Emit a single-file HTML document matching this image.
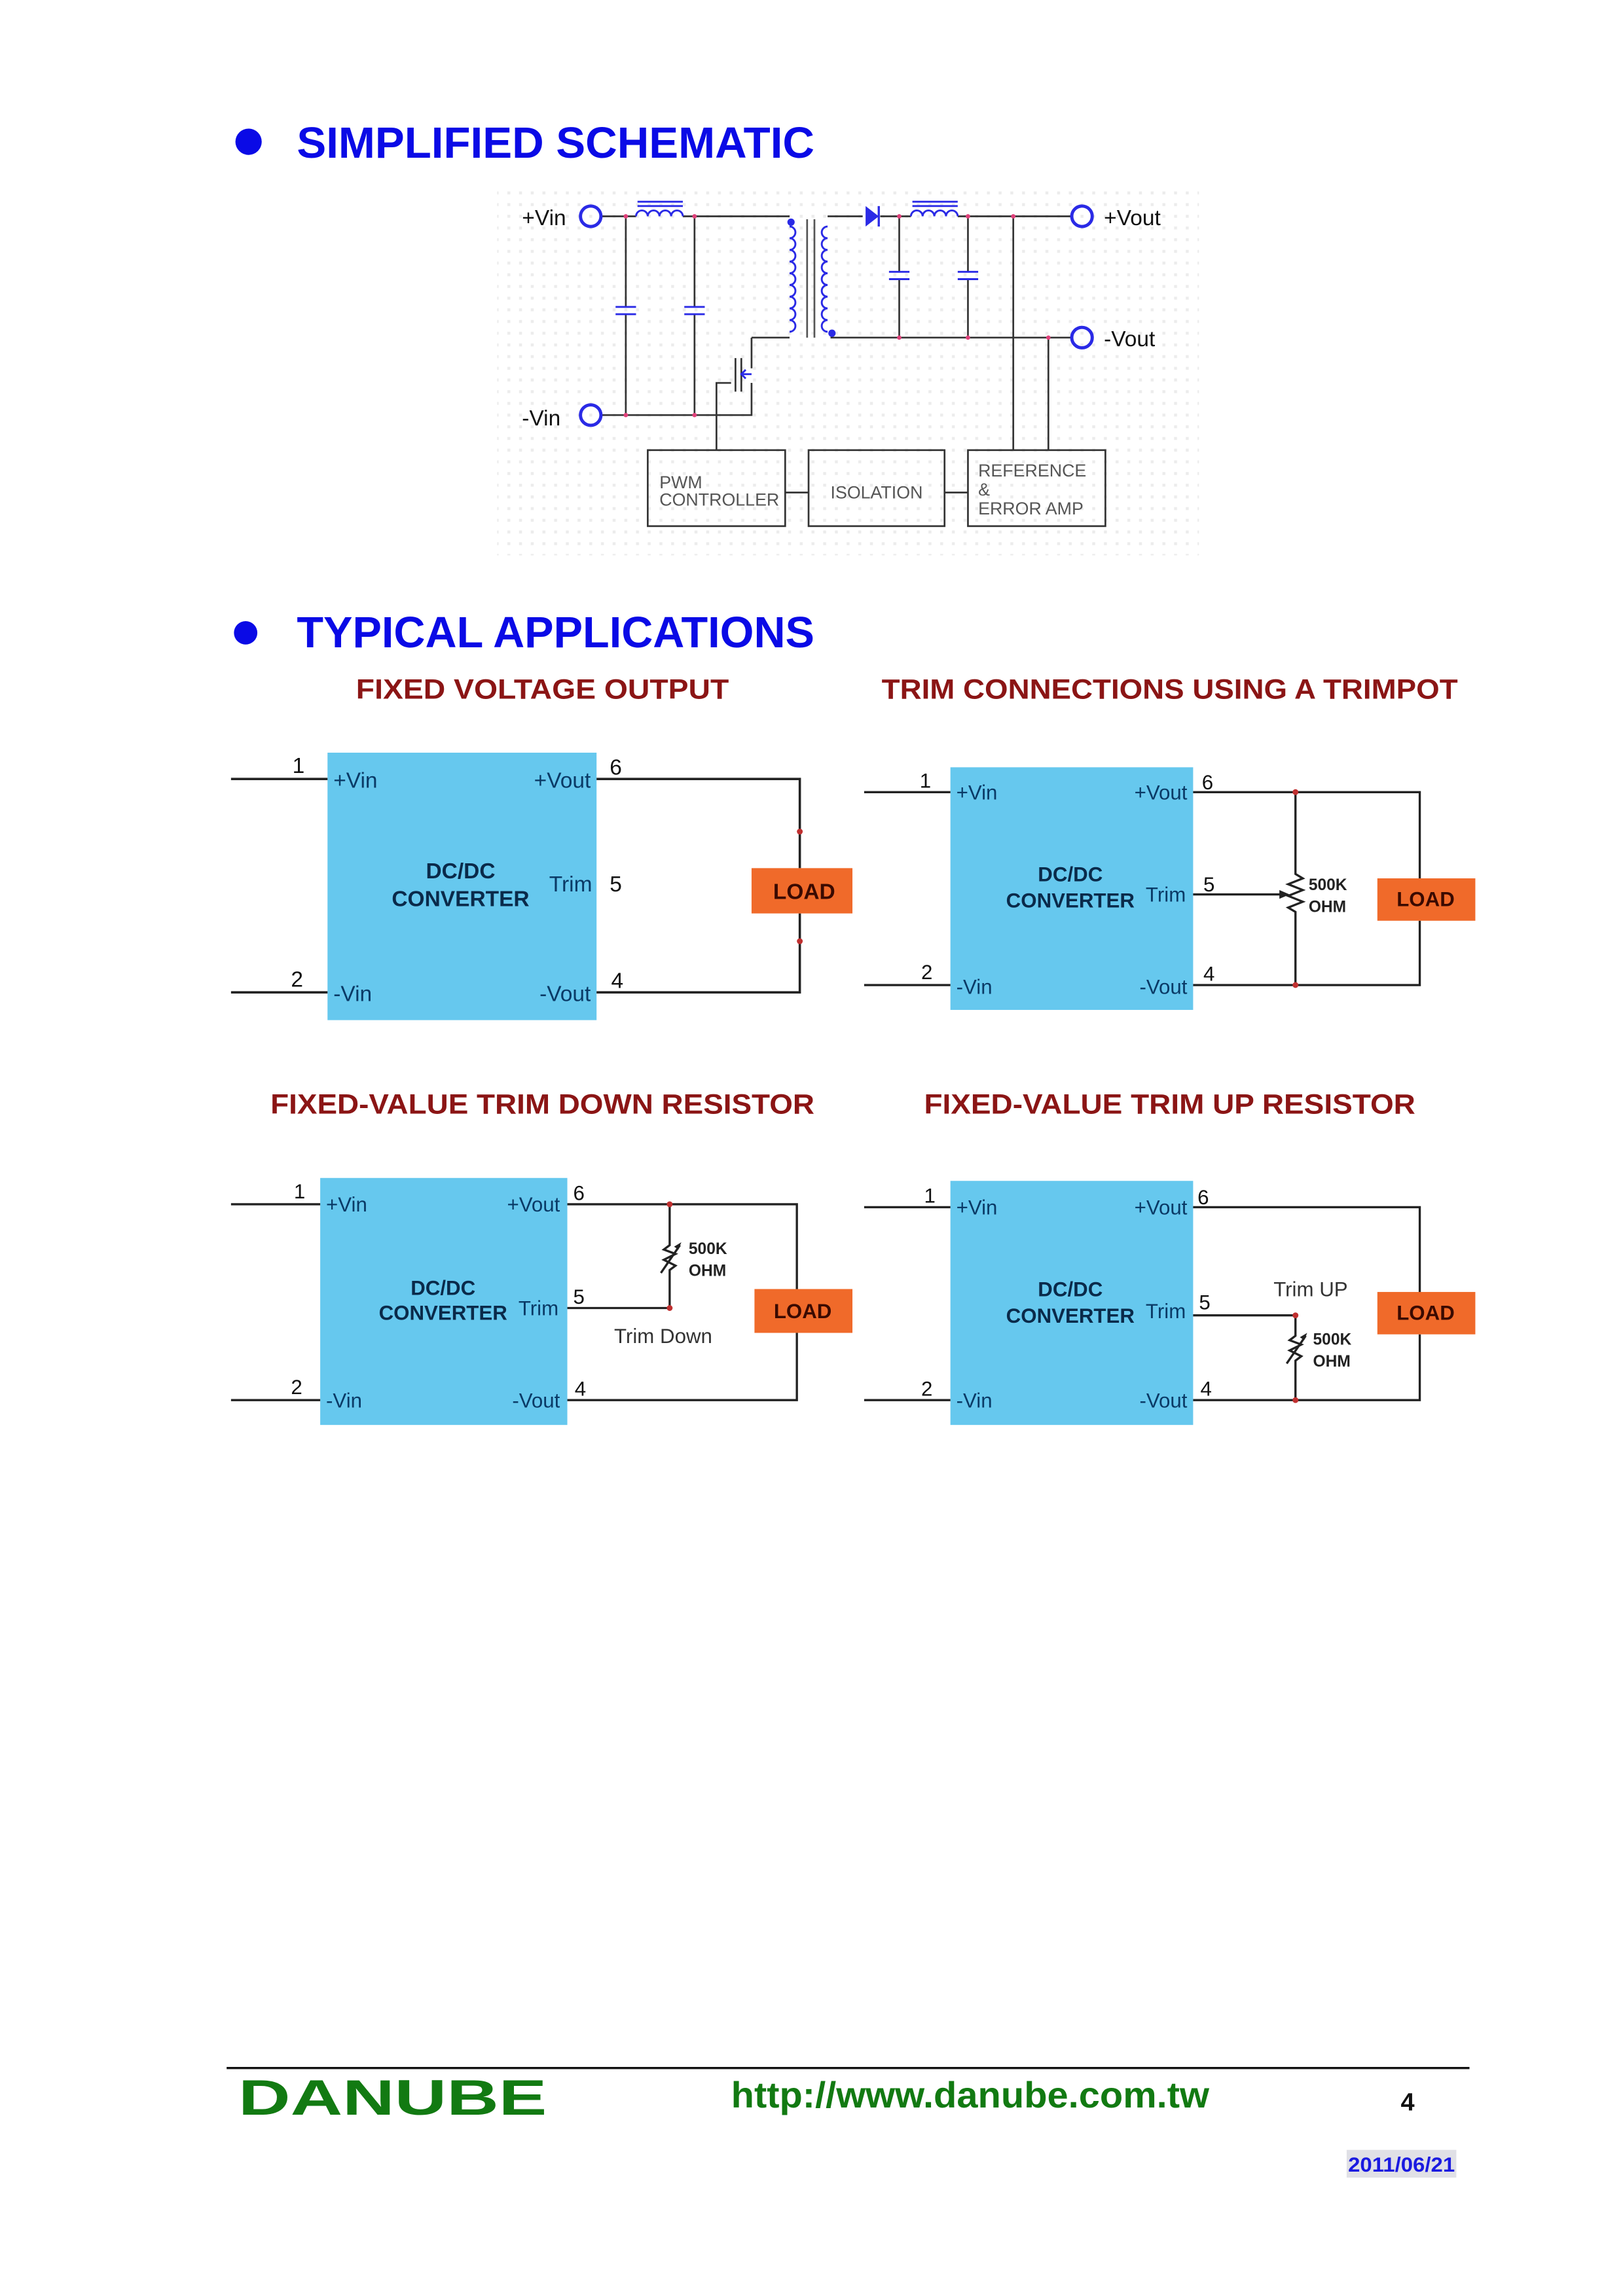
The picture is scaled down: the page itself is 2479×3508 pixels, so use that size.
<!DOCTYPE html>
<html><head><meta charset="utf-8"><style>html,body{margin:0;padding:0;background:#fff}svg{display:block}</style></head>
<body>
<svg xmlns="http://www.w3.org/2000/svg" width="2479" height="3508" viewBox="0 0 1110 1571" preserveAspectRatio="none" font-family="Liberation Sans, sans-serif">
<defs>
<pattern id="dots" width="8" height="8" patternUnits="userSpaceOnUse"><rect x="3" y="3" width="2" height="2" fill="#ececec"/></pattern>
</defs>
<!-- Title 1 -->
<circle cx="170" cy="97" r="9" fill="#0a0ae6"/>
<text x="203" y="108" font-size="30" font-weight="bold" fill="#0a0ae6" textLength="354" lengthAdjust="spacingAndGlyphs">SIMPLIFIED SCHEMATIC</text>

<!-- Schematic -->
<rect x="340" y="130" width="480" height="250" fill="url(#dots)"/>
<g stroke="#333" stroke-width="1.2" fill="none">
 <path d="M411 148 H435 M467 148 H540"/>
 <path d="M428 148 V210 M428 215 V284 M475 148 V210 M475 215 V284"/>
 <path d="M411 284 H514 V262 M514 231 V252 M514 231 H540"/>
 <path d="M490 308 V262 H500"/>
 <path d="M566 148 H590 M602 148 H623 M655 148 H733"/>
 <path d="M568 231 H733"/>
 <path d="M615 148 V186 M615 191 V231 M662 148 V186 M662 191 V231"/>
 <path d="M693 148 V308 M717 231 V308"/>
 <path d="M537 337 H553 M646 337 H662"/>
 <rect x="443" y="308" width="94" height="52"/>
 <rect x="553" y="308" width="93" height="52"/>
 <rect x="662" y="308" width="94" height="52"/>
 <path d="M552 150 V231 M557 150 V231" stroke="#555"/>
 <path d="M503 245 V268 M507 245 V268" stroke="#333"/>
</g>
<g stroke="#2a2ae6" stroke-width="1.3" fill="none">
 <circle cx="404" cy="148" r="7" stroke-width="2.2"/>
 <circle cx="404" cy="284" r="7" stroke-width="2.2"/>
 <circle cx="740" cy="148" r="7" stroke-width="2.2"/>
 <circle cx="740" cy="231" r="7" stroke-width="2.2"/>
 <path d="M435 148 a4 4 0 0 1 8 0 a4 4 0 0 1 8 0 a4 4 0 0 1 8 0 a4 4 0 0 1 8 0"/>
 <path d="M436 138 H467 M436 141 H467"/>
 <path d="M623 148 a4 4 0 0 1 8 0 a4 4 0 0 1 8 0 a4 4 0 0 1 8 0 a4 4 0 0 1 8 0"/>
 <path d="M624 138 H655 M624 141 H655"/>
 <path d="M421 210 H435 M421 215 H435 M468 210 H482 M468 215 H482"/>
 <path d="M608 186 H622 M608 191 H622 M655 186 H669 M655 191 H669"/>
 <path d="M540 155 a4 4 0 0 1 0 8 a4 4 0 0 1 0 8 a4 4 0 0 1 0 8 a4 4 0 0 1 0 8 a4 4 0 0 1 0 8 a4 4 0 0 1 0 8 a4 4 0 0 1 0 8 a4 4 0 0 1 0 8 a4 4 0 0 1 0 8"/>
 <path d="M566 155 a4 4 0 0 0 0 8 a4 4 0 0 0 0 8 a4 4 0 0 0 0 8 a4 4 0 0 0 0 8 a4 4 0 0 0 0 8 a4 4 0 0 0 0 8 a4 4 0 0 0 0 8 a4 4 0 0 0 0 8 a4 4 0 0 0 0 8"/>
 <path d="M508 256 L514 256 M510 253 L507 256 L510 259"/>
</g>
<circle cx="541" cy="152" r="2.5" fill="#2a2ae6"/>
<circle cx="569" cy="228" r="2.5" fill="#2a2ae6"/>
<path d="M592 141 L601 148 L592 155 Z" fill="#2a2ae6"/>
<path d="M601 141 V155" stroke="#2a2ae6" stroke-width="1.5"/>
<g fill="#e0407a">
 <circle cx="428" cy="148" r="1.5"/><circle cx="475" cy="148" r="1.5"/><circle cx="428" cy="284" r="1.5"/><circle cx="475" cy="284" r="1.5"/>
 <circle cx="615" cy="148" r="1.5"/><circle cx="662" cy="148" r="1.5"/><circle cx="693" cy="148" r="1.5"/>
 <circle cx="615" cy="231" r="1.5"/><circle cx="662" cy="231" r="1.5"/><circle cx="717" cy="231" r="1.5"/>
</g>
<g font-size="15" fill="#111">
 <text x="357" y="154">+Vin</text>
 <text x="357" y="291">-Vin</text>
 <text x="755" y="154">+Vout</text>
 <text x="755" y="237">-Vout</text>
</g>
<g font-size="12" fill="#555">
 <text x="451" y="334">PWM</text>
 <text x="451" y="346">CONTROLLER</text>
 <text x="568" y="341">ISOLATION</text>
 <text x="669" y="326">REFERENCE</text>
 <text x="669" y="339">&amp;</text>
 <text x="669" y="352">ERROR AMP</text>
</g>

<!-- Title 2 -->
<circle cx="168" cy="433" r="8" fill="#0a0ae6"/>
<text x="203" y="443" font-size="30" font-weight="bold" fill="#0a0ae6" textLength="354" lengthAdjust="spacingAndGlyphs">TYPICAL APPLICATIONS</text>

<g font-size="19" font-weight="bold" fill="#8b1515" text-anchor="middle">
 <text x="371" y="478" textLength="255" lengthAdjust="spacingAndGlyphs">FIXED VOLTAGE OUTPUT</text>
 <text x="800" y="478" textLength="394" lengthAdjust="spacingAndGlyphs">TRIM CONNECTIONS USING A TRIMPOT</text>
 <text x="371" y="762" textLength="372" lengthAdjust="spacingAndGlyphs">FIXED-VALUE TRIM DOWN RESISTOR</text>
 <text x="800" y="762" textLength="336" lengthAdjust="spacingAndGlyphs">FIXED-VALUE TRIM UP RESISTOR</text>
</g>

<!-- Diagram 1 -->
<rect x="224" y="515" width="184" height="183" fill="#66c8ee"/>
<g stroke="#222" stroke-width="1.6" fill="none">
 <path d="M158 533 H224 M158 679 H224"/>
 <path d="M408 533 H547 V594 M547 625 V679 H408"/>
</g>
<circle cx="547" cy="569" r="2" fill="#c03030"/><circle cx="547" cy="644" r="2" fill="#c03030"/>
<rect x="514" y="594" width="69" height="31" fill="#f06a2a"/>
<text x="550" y="615" font-size="15" font-weight="bold" fill="#3a0a00" text-anchor="middle">LOAD</text>
<g font-size="15" fill="#0a3a66">
 <text x="228" y="539">+Vin</text><text x="228" y="685">-Vin</text>
 <text x="404" y="539" text-anchor="end">+Vout</text><text x="404" y="685" text-anchor="end">-Vout</text>
 <text x="405" y="610" text-anchor="end">Trim</text>
</g>
<g font-size="15" font-weight="bold" fill="#0a2a4a" text-anchor="middle">
 <text x="315" y="601">DC/DC</text><text x="315" y="620">CONVERTER</text>
</g>
<g font-size="15" fill="#111">
 <text x="200" y="529">1</text><text x="199" y="675">2</text>
 <text x="417" y="530">6</text><text x="417" y="610">5</text><text x="418" y="676">4</text>
</g>

<!-- Diagram 2 -->
<rect x="650" y="525" width="166" height="166" fill="#66c8ee"/>
<g stroke="#222" stroke-width="1.5" fill="none">
 <path d="M591 542 H650 M591 674 H650"/>
 <path d="M816 542 H971 V601 M971 630 V674 H816"/>
 <path d="M886 542 V598 L891 601 L881 605 L891 609 L881 613 L891 617 L881 621 L886 624 V674"/>
 <path d="M816 612 H878"/>
</g>
<path d="M882 612 L875 609 L875 615 Z" fill="#222"/>
<circle cx="886" cy="542" r="2" fill="#c03030"/><circle cx="886" cy="674" r="2" fill="#c03030"/>
<rect x="942" y="601" width="67" height="29" fill="#f06a2a"/>
<text x="975" y="620" font-size="14" font-weight="bold" fill="#3a0a00" text-anchor="middle">LOAD</text>
<g font-size="11" font-weight="bold" fill="#222"><text x="895" y="609">500K</text><text x="895" y="624">OHM</text></g>
<g font-size="14" fill="#0a3a66">
 <text x="654" y="547">+Vin</text><text x="654" y="680">-Vin</text>
 <text x="812" y="547" text-anchor="end">+Vout</text><text x="812" y="680" text-anchor="end">-Vout</text>
 <text x="811" y="617" text-anchor="end">Trim</text>
</g>
<g font-size="14" font-weight="bold" fill="#0a2a4a" text-anchor="middle">
 <text x="732" y="603">DC/DC</text><text x="732" y="621">CONVERTER</text>
</g>
<g font-size="14" fill="#111">
 <text x="629" y="539">1</text><text x="630" y="670">2</text>
 <text x="822" y="540">6</text><text x="823" y="610">5</text><text x="823" y="671">4</text>
</g>

<!-- Diagram 3 -->
<rect x="219" y="806" width="169" height="169" fill="#66c8ee"/>
<g stroke="#222" stroke-width="1.5" fill="none">
 <path d="M158 824 H219 M158 958 H219"/>
 <path d="M388 824 H545 V882 M545 912 V958 H388"/>
 <path d="M458 824 V852 L454 855 L462 858 L454 862 L462 866 L458 869 V895 H388"/>
 <path d="M452 871 L465 852"/>
</g>
<path d="M466 850 L461 853 L464 855 Z" fill="#222"/>
<circle cx="458" cy="824" r="2" fill="#c03030"/><circle cx="458" cy="895" r="2" fill="#c03030"/>
<rect x="516" y="882" width="67" height="30" fill="#f06a2a"/>
<text x="549" y="902" font-size="14" font-weight="bold" fill="#3a0a00" text-anchor="middle">LOAD</text>
<g font-size="11" font-weight="bold" fill="#222"><text x="471" y="858">500K</text><text x="471" y="873">OHM</text></g>
<text x="420" y="919" font-size="14" fill="#333">Trim Down</text>
<g font-size="14" fill="#0a3a66">
 <text x="223" y="829">+Vin</text><text x="223" y="963">-Vin</text>
 <text x="383" y="829" text-anchor="end">+Vout</text><text x="383" y="963" text-anchor="end">-Vout</text>
 <text x="382" y="900" text-anchor="end">Trim</text>
</g>
<g font-size="14" font-weight="bold" fill="#0a2a4a" text-anchor="middle">
 <text x="303" y="886">DC/DC</text><text x="303" y="903">CONVERTER</text>
</g>
<g font-size="14" fill="#111">
 <text x="201" y="820">1</text><text x="199" y="954">2</text>
 <text x="392" y="821">6</text><text x="392" y="892">5</text><text x="393" y="955">4</text>
</g>

<!-- Diagram 4 -->
<rect x="650" y="808" width="166" height="167" fill="#66c8ee"/>
<g stroke="#222" stroke-width="1.5" fill="none">
 <path d="M591 826 H650 M591 958 H650"/>
 <path d="M816 826 H971 V884 M971 913 V958 H816"/>
 <path d="M816 900 H886 V914 L882 917 L890 920 L882 924 L890 928 L886 931 V958"/>
 <path d="M880 933 L893 914"/>
</g>
<path d="M894 912 L889 915 L892 917 Z" fill="#222"/>
<circle cx="886" cy="900" r="2" fill="#c03030"/><circle cx="886" cy="958" r="2" fill="#c03030"/>
<rect x="942" y="884" width="67" height="29" fill="#f06a2a"/>
<text x="975" y="903" font-size="14" font-weight="bold" fill="#3a0a00" text-anchor="middle">LOAD</text>
<g font-size="11" font-weight="bold" fill="#222"><text x="898" y="920">500K</text><text x="898" y="935">OHM</text></g>
<text x="871" y="887" font-size="14" fill="#333">Trim UP</text>
<g font-size="14" fill="#0a3a66">
 <text x="654" y="831">+Vin</text><text x="654" y="963">-Vin</text>
 <text x="812" y="831" text-anchor="end">+Vout</text><text x="812" y="963" text-anchor="end">-Vout</text>
 <text x="811" y="902" text-anchor="end">Trim</text>
</g>
<g font-size="14" font-weight="bold" fill="#0a2a4a" text-anchor="middle">
 <text x="732" y="887">DC/DC</text><text x="732" y="905">CONVERTER</text>
</g>
<g font-size="14" fill="#111">
 <text x="632" y="823">1</text><text x="630" y="955">2</text>
 <text x="819" y="824">6</text><text x="820" y="896">5</text><text x="821" y="955">4</text>
</g>

<!-- Footer -->
<path d="M155 1415 H1005" stroke="#111" stroke-width="1.5"/>
<text x="163" y="1447" font-size="34" font-weight="bold" fill="#127a12" textLength="211" lengthAdjust="spacingAndGlyphs">DANUBE</text>
<text x="500" y="1442" font-size="25" font-weight="bold" fill="#127a12" textLength="327" lengthAdjust="spacingAndGlyphs">http://www.danube.com.tw</text>
<text x="958" y="1444" font-size="17" font-weight="bold" fill="#111">4</text>
<rect x="921" y="1471" width="75" height="19" fill="#e0e0e6"/>
<text x="922" y="1486" font-size="14" font-weight="bold" fill="#1a1ae0" textLength="73" lengthAdjust="spacingAndGlyphs">2011/06/21</text>
</svg>
</body></html>
